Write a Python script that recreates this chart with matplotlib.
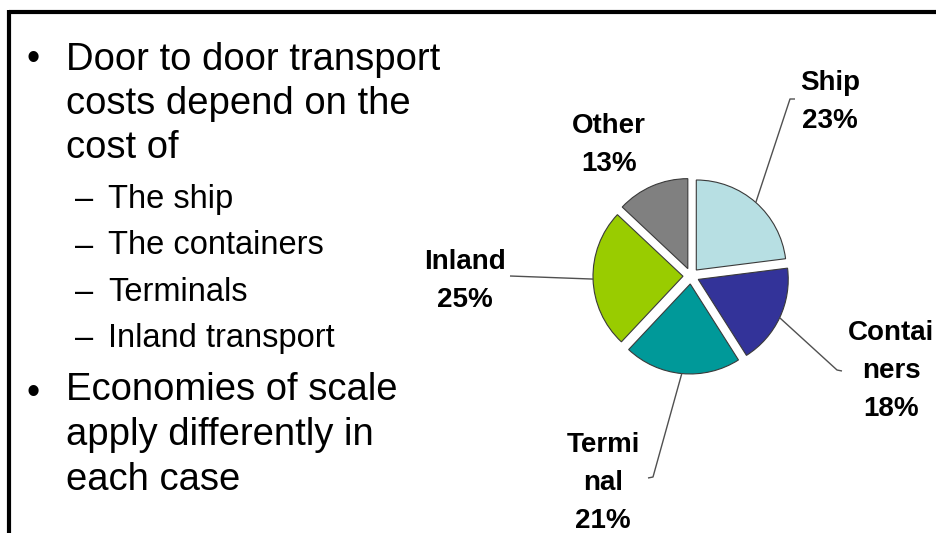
import numpy as np
import matplotlib.pyplot as plt

plt.rcParams['font.family'] = ['Liberation Sans', 'DejaVu Sans']

# cost shares of door-to-door transport (%)
segments = ['Ship', 'Containers', 'Terminal', 'Inland', 'Other']
shares = [23, 18, 21, 25, 13]
slice_labels = ['Ship', 'Contai\nners', 'Termi\nnal', 'Inland', 'Other']
colors = ['#B7DFE3', '#333399', '#009999', '#99CC00', '#808080']

bullet1 = ['Door to door transport', 'costs depend on the', 'cost of']
sub_items = ['The ship', 'The containers', 'Terminals', 'Inland transport']
bullet2 = ['Economies of scale', 'apply differently in', 'each case']

W, H = 937, 533
fig = plt.figure(figsize=(W / 100, H / 100), dpi=100)
ax = fig.add_axes([0, 0, 1, 1])

def py(y):
    # work in pixel rows counted from the top
    return H - y

# pie, clockwise from 12 o'clock, every slice pulled out a little
# (pie's explode is an absolute offset in data units, here pixels)
cx, cy, r, gap = 691, 276, 90, 8
wedges, _ = ax.pie(shares, colors=colors, explode=[gap] * len(shares),
                   startangle=90, counterclock=False, center=(cx, py(cy)),
                   radius=r, wedgeprops=dict(edgecolor='#3a3a3a', linewidth=0.8))

# leader elbow / hook end and label placement (x, top-row baseline)
leaders = {
    'Ship': [(790, 99), (795, 99)],
    'Containers': [(837, 370), (842, 371)],
    'Terminal': [(653, 477), (648, 478)],
    'Inland': [(510, 276)],
    'Other': None,
}
label_pos = {
    'Ship': (830, 90),
    'Containers': (891, 340),
    'Terminal': (603, 452),
    'Inland': (465, 269),
    'Other': (609, 133),
}

for w, name, lab, val in zip(wedges, segments, slice_labels, shares):
    mid = np.deg2rad((w.theta1 + w.theta2) / 2)
    if leaders[name]:
        x0 = cx + (r + gap) * np.cos(mid)
        y0 = py(cy) + (r + gap) * np.sin(mid)
        xs = [x0] + [p[0] for p in leaders[name]]
        ys = [y0] + [py(p[1]) for p in leaders[name]]
        ax.plot(xs, ys, color='#505050', lw=1.0, solid_capstyle='butt')
    lx, ly = label_pos[name]
    for i, line in enumerate(lab.split('\n') + [f'{val}%']):
        ax.text(lx, py(ly + i * 38), line, ha='center', va='baseline',
                fontsize=20, fontweight='bold', color='black')

# bullet text on the left
for i, line in enumerate(bullet1):
    ax.text(66, py(70 + i * 44), line, fontsize=27.5, va='baseline', color='black')
ax.text(33, py(70), '\u2022', fontsize=27, ha='center', va='baseline', color='black')

for i, line in enumerate(sub_items):
    yb = 208 + i * 46.5
    ax.text(75, py(yb), '\u2013', fontsize=23.5, va='baseline', color='black')
    ax.text(108, py(yb), line, fontsize=23.5, va='baseline', color='black')

for i, line in enumerate(bullet2):
    ax.text(66, py(400 + i * 45), line, fontsize=27.5, va='baseline', color='black')
ax.text(33, py(404), '\u2022', fontsize=27, ha='center', va='baseline', color='black')

# slide frame, top and left edges
ax.plot([9.5, W], [py(11.5), py(11.5)], color='black', lw=3, solid_capstyle='butt')
ax.plot([9.5, 9.5], [py(10), 0], color='black', lw=3, solid_capstyle='butt')

ax.set_xlim(0, W)
ax.set_ylim(0, H)
ax.set_aspect('auto')
ax.axis('off')

fig.savefig('out.png', dpi=100)
